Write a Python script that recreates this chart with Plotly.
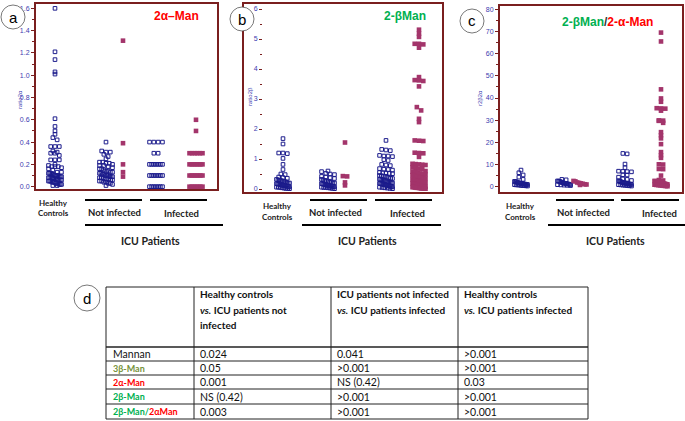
import plotly.graph_objects as go

W, H = 685, 421

# ---------------- data ----------------
groups = ["Healthy Controls", "Not infected (blue)", "Not infected (red)", "Infected (blue)", "Infected (red)"]

a_hc = [1.60, 1.21, 1.14, 1.03, 1.01, 0.61, 0.54, 0.50, 0.47, 0.44, 0.42, 0.36, 0.36, 0.36, 0.32, 0.31,
        0.30, 0.30, 0.28, 0.24, 0.24, 0.24, 0.20, 0.19, 0.18, 0.18, 0.18, 0.17, 0.16, 0.15, 0.13, 0.13,
        0.12, 0.12, 0.12, 0.11, 0.11, 0.10, 0.10, 0.10, 0.10, 0.09, 0.09, 0.09, 0.08, 0.08, 0.08, 0.08,
        0.07, 0.07, 0.07, 0.06, 0.06, 0.06, 0.06, 0.05, 0.05, 0.05, 0.04, 0.04, 0.04, 0.03, 0.03, 0.03,
        0.02, 0.02, 0.02, 0.01, 0.01]
a_ni_b = [0.40, 0.32, 0.31, 0.31, 0.29, 0.27, 0.25, 0.22, 0.22, 0.21, 0.21, 0.20, 0.19, 0.19, 0.18, 0.17,
          0.16, 0.16, 0.15, 0.14, 0.14, 0.13, 0.13, 0.12, 0.12, 0.11, 0.11, 0.10, 0.10, 0.10, 0.09, 0.09,
          0.09, 0.08, 0.08, 0.08, 0.07, 0.07, 0.07, 0.06, 0.06, 0.05, 0.05, 0.04, 0.04, 0.03, 0.03, 0.02, 0.01]
a_ni_r = [1.31, 0.39, 0.20, 0.13, 0.09]
a_inf_b = [0.40, 0.40, 0.40, 0.40, 0.30, 0.30, 0.20, 0.20, 0.20, 0.20, 0.20, 0.20, 0.20,
           0.10, 0.10, 0.10, 0.10, 0.10, 0.10, 0.10, 0.00, 0.00, 0.00, 0.00, 0.00, 0.00, 0.00]
a_inf_r = [0.60, 0.50, 0.30, 0.30, 0.30, 0.30, 0.30, 0.30, 0.20, 0.20, 0.20, 0.20, 0.20, 0.20, 0.20,
           0.10, 0.10, 0.10, 0.10, 0.10, 0.10, 0.10, 0.00, 0.00, 0.00, 0.00, 0.00, 0.00, 0.00]

b_hc = [1.68, 1.50, 1.20, 1.20, 1.18, 1.02, 0.82, 0.65, 0.50, 0.48, 0.40, 0.38, 0.36, 0.32, 0.30, 0.30,
        0.28, 0.27, 0.25, 0.24, 0.22, 0.20, 0.20, 0.18, 0.17, 0.16, 0.15, 0.14, 0.13, 0.12, 0.11, 0.10,
        0.10, 0.09, 0.08, 0.07, 0.06, 0.06, 0.05, 0.04, 0.03, 0.02, 0.02, 0.01]
b_ni_b = [0.60, 0.58, 0.52, 0.50, 0.48, 0.42, 0.40, 0.38, 0.35, 0.32, 0.30, 0.28, 0.27, 0.25, 0.23, 0.22,
          0.20, 0.20, 0.18, 0.17, 0.16, 0.15, 0.14, 0.13, 0.12, 0.11, 0.10, 0.10, 0.09, 0.08, 0.07, 0.06,
          0.05, 0.05, 0.04, 0.03, 0.02, 0.01]
b_ni_r = [1.55, 0.43, 0.42, 0.22, 0.12]
b_inf_b = [1.62, 1.32, 1.30, 1.28, 1.12, 1.10, 1.10, 1.08, 0.98, 0.95, 0.82, 0.80, 0.78, 0.68, 0.66, 0.65,
           0.63, 0.55, 0.54, 0.53, 0.52, 0.51, 0.45, 0.44, 0.43, 0.42, 0.40, 0.38, 0.36, 0.35, 0.33, 0.32,
           0.30, 0.29, 0.28, 0.27, 0.25, 0.24, 0.23, 0.22, 0.21, 0.20, 0.19, 0.18, 0.17, 0.16, 0.15, 0.14,
           0.13, 0.12, 0.11, 0.10, 0.09, 0.08, 0.07, 0.06, 0.05, 0.04, 0.03, 0.02, 0.01]
b_inf_r = [5.31, 5.18, 5.07, 4.84, 4.84, 4.82, 4.71, 3.73, 3.63, 3.62, 3.60, 3.42, 2.73, 2.62, 2.34, 2.23,
           1.62, 1.61, 1.60, 1.21, 1.20, 1.19, 1.07, 0.84, 0.83, 0.82, 0.81, 0.80, 0.72, 0.70, 0.68, 0.66,
           0.60, 0.58, 0.56, 0.55, 0.52, 0.50, 0.48, 0.46, 0.45, 0.44, 0.42, 0.40, 0.39, 0.38, 0.36, 0.35,
           0.34, 0.32, 0.31, 0.30, 0.29, 0.28, 0.27, 0.26, 0.25, 0.24, 0.23, 0.22, 0.21, 0.20, 0.20, 0.19,
           0.18, 0.17, 0.16, 0.15, 0.14, 0.13, 0.12, 0.12, 0.11, 0.10, 0.10, 0.09, 0.08, 0.08, 0.07, 0.06,
           0.06, 0.05, 0.04, 0.04, 0.03, 0.02, 0.02, 0.01, 0.01]

c_hc = [7.5, 6.3, 5.3, 4.3, 3.3, 2.4, 2.3, 2.2, 1.9, 1.8, 1.7, 1.6, 1.5, 1.4, 1.3, 1.2, 1.2, 1.1, 1.0,
        1.0, 0.9, 0.8, 0.8, 0.7, 0.6, 0.5, 0.5, 0.4, 0.3]
c_ni_b = [3.3, 3.1, 2.6, 2.5, 2.4, 2.2, 1.9, 1.7, 1.6, 1.5, 1.4, 1.3, 1.2, 1.1, 1.0, 0.9, 0.8, 0.7, 0.6, 0.5]
c_ni_r = [2.6, 2.4, 1.9, 1.7, 1.5, 1.3, 1.1, 1.0, 0.8]
c_inf_b = [15.0, 14.8, 10.2, 8.6, 7.0, 6.9, 6.8, 6.7, 5.4, 5.3, 4.3, 3.5, 3.3, 2.8, 2.6, 2.5, 2.3, 2.1,
           1.9, 1.8, 1.7, 1.6, 1.5, 1.4, 1.3, 1.2, 1.1, 1.0, 0.9, 0.8, 0.7, 0.6, 0.5, 0.4, 0.3]
c_inf_r = [69.5, 65.5, 43.9, 39.8, 38.3, 35.4, 35.3, 35.2, 34.3, 29.9, 29.8, 29.7, 28.8, 24.6, 23.2,
           21.8, 19.2, 15.6, 14.2, 13.0, 10.1, 10.0, 8.0, 7.9, 5.0, 3.0, 2.8, 2.6, 2.5, 2.4, 2.2, 2.0,
           1.9, 1.8, 1.7, 1.6, 1.5, 1.4, 1.3, 1.2, 1.1, 1.0, 0.9, 0.8, 0.7, 0.6, 0.5, 0.4, 0.3, 0.2]

a_ticks = [0.0, 0.2, 0.4, 0.6, 0.8, 1.0, 1.2, 1.4, 1.6]
b_ticks = [0, 1, 2, 3, 4, 5, 6]
c_ticks = [0, 10, 20, 30, 40, 50, 60, 70, 80]

table_rows = ["Mannan", "3β-Man", "2α-Man", "2β-Man", "2β-Man/2αMan"]
table_headers = [
    ["Healthy controls", "<i>vs.</i> ICU patients not", "infected"],
    ["ICU patients not infected", "<i>vs.</i> ICU patients infected"],
    ["Healthy controls", "<i>vs.</i> ICU patients infected"],
]
col_hc_vs_ni = ["0.024", "0.05", "0.001", "NS (0.42)", "0.003"]
col_ni_vs_inf = ["0.041", ">0.001", "NS (0.42)", ">0.001", ">0.001"]
col_hc_vs_inf = [">0.001", ">0.001", "0.03", ">0.001", ">0.001"]

# ---------------- styling / layout ----------------
BLUE = "#1c1c8c"
RED = "#a3356b"
MAROON = "#7a1f1f"
TICKBLUE = "#3c3cb0"
GREEN = "#00b050"
OLIVE = "#77933c"
BRIGHTRED = "#ff0000"
FONT = "Lato"


def px(x):
    return x / W


def py(y):
    return 1 - y / H


def ann(x, y, text, size, color="#111111", family=FONT, xanchor="center", angle=0):
    return dict(x=px(x), y=py(y), xref="paper", yref="paper", text=text, showarrow=False,
                xanchor=xanchor, yanchor="middle", textangle=angle,
                font=dict(size=size, color=color, family=family))


panels = [
    dict(name="a", x0=35, x1=218, y0=3, y1=190, yr=[-0.03, 1.648], ticks=a_ticks, fmt=".1f", minor=0.1,
         centers=[55, 106, 123, 156, 196],
         data=[a_hc, a_ni_b, a_ni_r, a_inf_b, a_inf_r]),
    dict(name="b", x0=263, x1=443, y0=3, y1=193, yr=[-0.133, 6.2], ticks=b_ticks, fmt="d", minor=0.5,
         centers=[283, 328, 345, 386, 419],
         data=[b_hc, b_ni_b, b_ni_r, b_inf_b, b_inf_r]),
    dict(name="c", x0=499, x1=683, y0=5, y1=193, yr=[-2.84, 81.94], ticks=c_ticks, fmt="d", minor=5,
         centers=[521, 564, 580, 625, 661],
         data=[c_hc, c_ni_b, c_ni_r, c_inf_b, c_inf_r]),
]
kinds = ["blue", "blue", "red", "blue", "red"]


def swarm(vals, center_px, p, dx_px=4.3, row_px=4.0, max_w_px=13.0):
    w = p["x1"] - p["x0"]
    per_px = (p["yr"][1] - p["yr"][0]) / (p["y1"] - p["y0"])
    row_h = row_px * per_px
    bins = {}
    for v in vals:
        bins.setdefault(int(round(v / row_h)), []).append(v)
    xs, ys = [], []
    c = (center_px - p["x0"]) / w
    for _, vs in bins.items():
        n = len(vs)
        step = dx_px
        if n > 1 and (n - 1) * dx_px > max_w_px:
            step = max_w_px / (n - 1)
        for i, v in enumerate(vs):
            xs.append(c + (i - (n - 1) / 2) * step / w)
            ys.append(v)
    return xs, ys


fig = go.Figure()
layout = dict(width=W, height=H, margin=dict(l=0, r=0, t=0, b=0), paper_bgcolor="white",
              plot_bgcolor="white", showlegend=False)

for k, p in enumerate(panels):
    sfx = "" if k == 0 else str(k + 1)
    xa, ya = "x" + sfx, "y" + sfx
    for gi, vals in enumerate(p["data"]):
        xs, ys = swarm(vals, p["centers"][gi], p)
        if kinds[gi] == "blue":
            marker = dict(symbol="square-open", size=3.6, color=BLUE, line=dict(width=1, color=BLUE))
        else:
            marker = dict(symbol="square", size=4.6, color=RED, line=dict(width=0))
        fig.add_trace(go.Scatter(x=xs, y=ys, mode="markers", marker=marker, xaxis=xa, yaxis=ya,
                                 name=groups[gi], hoverinfo="y"))
    layout["xaxis" + sfx] = dict(domain=[px(p["x0"]), px(p["x1"])], range=[0, 1], visible=False,
                                 anchor=ya, fixedrange=True)
    layout["yaxis" + sfx] = dict(domain=[py(p["y1"]), py(p["y0"])], range=p["yr"], anchor=xa,
                                 tickvals=p["ticks"], tickformat=p["fmt"], ticks="outside", ticklen=3,
                                 tickwidth=1, tickcolor=MAROON, showgrid=False, zeroline=False,
                                 showline=False, tickfont=dict(size=7, color=TICKBLUE, family="Liberation Sans"),
                                 minor=dict(ticks="outside", ticklen=2, dtick=p["minor"], tick0=0,
                                            tickcolor=MAROON, showgrid=False),
                                 fixedrange=True)

shapes = []
annotations = []

# panel frames
for (x0, y0, x1, y1) in [(35, 3, 218, 190), (243, 3, 443, 193), (499, 5, 683, 193)]:
    shapes.append(dict(type="rect", xref="paper", yref="paper", x0=px(x0), x1=px(x1), y0=py(y1), y1=py(y0),
                       line=dict(color=MAROON, width=2), layer="above"))

# panel letters
for (cx, cy, r, letter) in [(13, 17, 12, "a"), (242, 19, 12, "b"), (472, 21, 12, "c"), (87, 298, 13, "d")]:
    shapes.append(dict(type="circle", xref="paper", yref="paper", x0=px(cx - r), x1=px(cx + r),
                       y0=py(cy + r), y1=py(cy - r), line=dict(color="#555555", width=0.8),
                       fillcolor="white", layer="above"))
    annotations.append(ann(cx, cy, letter, 15, "black", "Liberation Sans"))

# panel titles
annotations.append(ann(176, 16, "<b>2α–Man</b>", 12, BRIGHTRED, "Liberation Sans"))
annotations.append(ann(405, 16, "<b>2-βMan</b>", 12, GREEN, "Liberation Sans"))
annotations.append(ann(607, 22, "<b><span style='color:%s'>2-βMan</span><span style='color:#333333'>/</span>"
                                "<span style='color:%s'>2-α-Man</span></b>" % (GREEN, BRIGHTRED),
                       12, GREEN, "Liberation Sans"))

# y-axis titles
for (x, y, t) in [(20, 100, "ratio2α"), (250, 97, "ratio2β"), (480, 98, "r2β2α")]:
    annotations.append(ann(x, y, t, 6, TICKBLUE, "Liberation Sans", angle=-90))

# group labels under the panels
labels = [
    dict(hc=53, hcy=(203, 213), ni=115, inf=181, l1=(85, 142), l2=(150, 207), lb=(85, 223), icu=150),
    dict(hc=277, hcy=(206, 217), ni=335, inf=407, l1=(310, 367), l2=(375, 432), lb=(302, 441), icu=367),
    dict(hc=520, hcy=(206, 217), ni=583, inf=659, l1=(556, 614), l2=(621, 679), lb=(548, 685), icu=615),
]
for L in labels:
    annotations.append(ann(L["hc"], L["hcy"][0], "<b>Healthy</b>", 8, "#222222"))
    annotations.append(ann(L["hc"], L["hcy"][1], "<b>Controls</b>", 8, "#222222"))
    annotations.append(ann(L["ni"], 212, "<b>Not infected</b>", 9.5, "#222222"))
    annotations.append(ann(L["inf"], 213, "<b>Infected</b>", 9.5, "#222222"))
    annotations.append(ann(L["icu"], 241, "<b>ICU Patients</b>", 10.5, "#222222"))
    for (a, b, yy) in [(L["l1"][0], L["l1"][1], 200), (L["l2"][0], L["l2"][1], 200), (L["lb"][0], L["lb"][1], 225)]:
        shapes.append(dict(type="line", xref="paper", yref="paper", x0=px(a), x1=px(b), y0=py(yy), y1=py(yy),
                           line=dict(color="black", width=2)))

# ---------------- table ----------------
col_x = [106, 194, 331, 458, 588]
row_y = [287, 347, 361, 375, 389, 404, 419]
TL = dict(color="#222222", width=1)
for i, x in enumerate(col_x):
    shapes.append(dict(type="line", xref="paper", yref="paper", x0=px(x), x1=px(x), y0=py(row_y[0]),
                       y1=py(row_y[-1]), line=TL))
for j, y in enumerate(row_y):
    shapes.append(dict(type="line", xref="paper", yref="paper", x0=px(col_x[0]), x1=px(col_x[-1]),
                       y0=py(y), y1=py(y), line=dict(color="#222222", width=1.6 if j == 1 else 1)))

header_y = [294, 309.5, 325]
for ci, lines in enumerate(table_headers):
    for li, t in enumerate(lines):
        annotations.append(ann(col_x[ci + 1] + 4, header_y[li], "<b>%s</b>" % t, 10, "#111111",
                               xanchor="left"))

row_label_html = [
    "Mannan",
    "<b><span style='color:%s'>3β-Man</span></b>" % OLIVE,
    "<b><span style='color:%s'>2α-Man</span></b>" % BRIGHTRED,
    "<b><span style='color:%s'>2β-Man</span></b>" % GREEN,
    "<b><span style='color:%s'>2β-Man</span>/<span style='color:%s'>2αMan</span></b>" % (GREEN, BRIGHTRED),
]
for ri in range(len(table_rows)):
    yc = (row_y[ri + 1] + row_y[ri + 2]) / 2
    annotations.append(ann(col_x[0] + 5, yc, row_label_html[ri], 10.5 if ri == 0 else 9,
                           GREEN if ri == 4 else "#111111", xanchor="left"))
    for ci, col in enumerate([col_hc_vs_ni, col_ni_vs_inf, col_hc_vs_inf]):
        annotations.append(ann(col_x[ci + 1] + 4, yc, col[ri], 10.5, "#111111", xanchor="left"))

layout["shapes"] = shapes
layout["annotations"] = annotations
fig.update_layout(**layout)
fig.write_html("out.html", config={"displayModeBar": False, "staticPlot": True},
               post_script="document.body.style.margin='0';document.body.style.padding='0';"
                           "document.body.style.overflow='hidden';"
                           "document.documentElement.style.overflow='hidden';")
